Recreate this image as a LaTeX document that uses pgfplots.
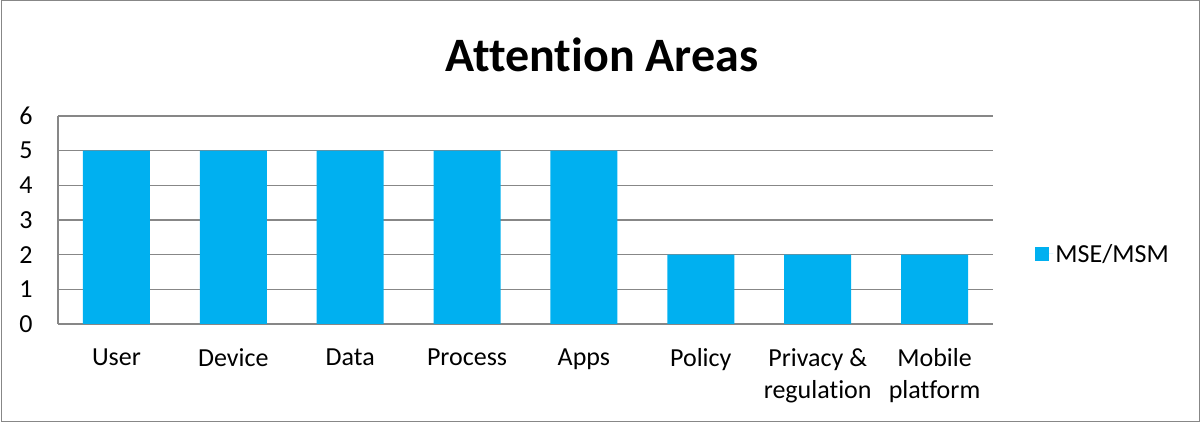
\documentclass[border=0pt]{standalone}
\usepackage{pgfplots}
\pgfplotsset{compat=1.18}
\usepackage{fontspec}
\setmainfont{Carlito}[Ligatures=NoCommon]
\definecolor{barc}{HTML}{00B0F0}
\definecolor{gridc}{HTML}{878787}
\begin{document}
\begin{tikzpicture}[x=1pt,y=1pt]
\path[use as bounding box] (0,0) rectangle (1200,423);
\draw[gridc, line width=1pt] (1,1) rectangle (1199,422);
\node[font=\bfseries\fontsize{48}{56}\selectfont] at (602,368) {Attention Areas};
\begin{axis}[
  at={(58pt,99pt)}, anchor=south west,
  width=935pt, height=208pt, scale only axis,
  ymin=0, ymax=6, xmin=-0.5, xmax=7.5,
  ytick={0,1,2,3,4,5,6},
  xtick={0,1,2,3,4,5,6,7},
  xticklabels={User, Device, Data, Process, Apps, Policy, {Privacy \&\\regulation}, {Mobile\\platform}},
  axis x line*=bottom, axis y line*=left,
  axis line style={gridc, line width=1.2pt, -},
  ymajorgrids, grid style={gridc, line width=1.2pt},
  major tick length=0pt,
  /pgf/number format/assume math mode=true,
  tick label style={font=\fontsize{26}{32}\selectfont, text=black},
  xticklabel style={align=center, anchor=north, yshift=-21pt},
  yticklabel style={anchor=east, xshift=-22pt},
  legend style={at={(1.042,0.337)}, anchor=west, draw=none, fill=none, font=\fontsize{26}{30}\selectfont},
  legend image code/.code={\path (0pt,0pt) -- (18pt,0pt); \fill[barc] (0pt,-7pt) rectangle (14pt,7pt);},
]
\addplot[ybar, bar width=67pt, fill=barc, draw=none] coordinates {
  (0,5) (1,5) (2,5) (3,5) (4,5) (5,2) (6,2) (7,2)
};
\addlegendentry{MSE/MSM}
\end{axis}
\end{tikzpicture}
\end{document}
